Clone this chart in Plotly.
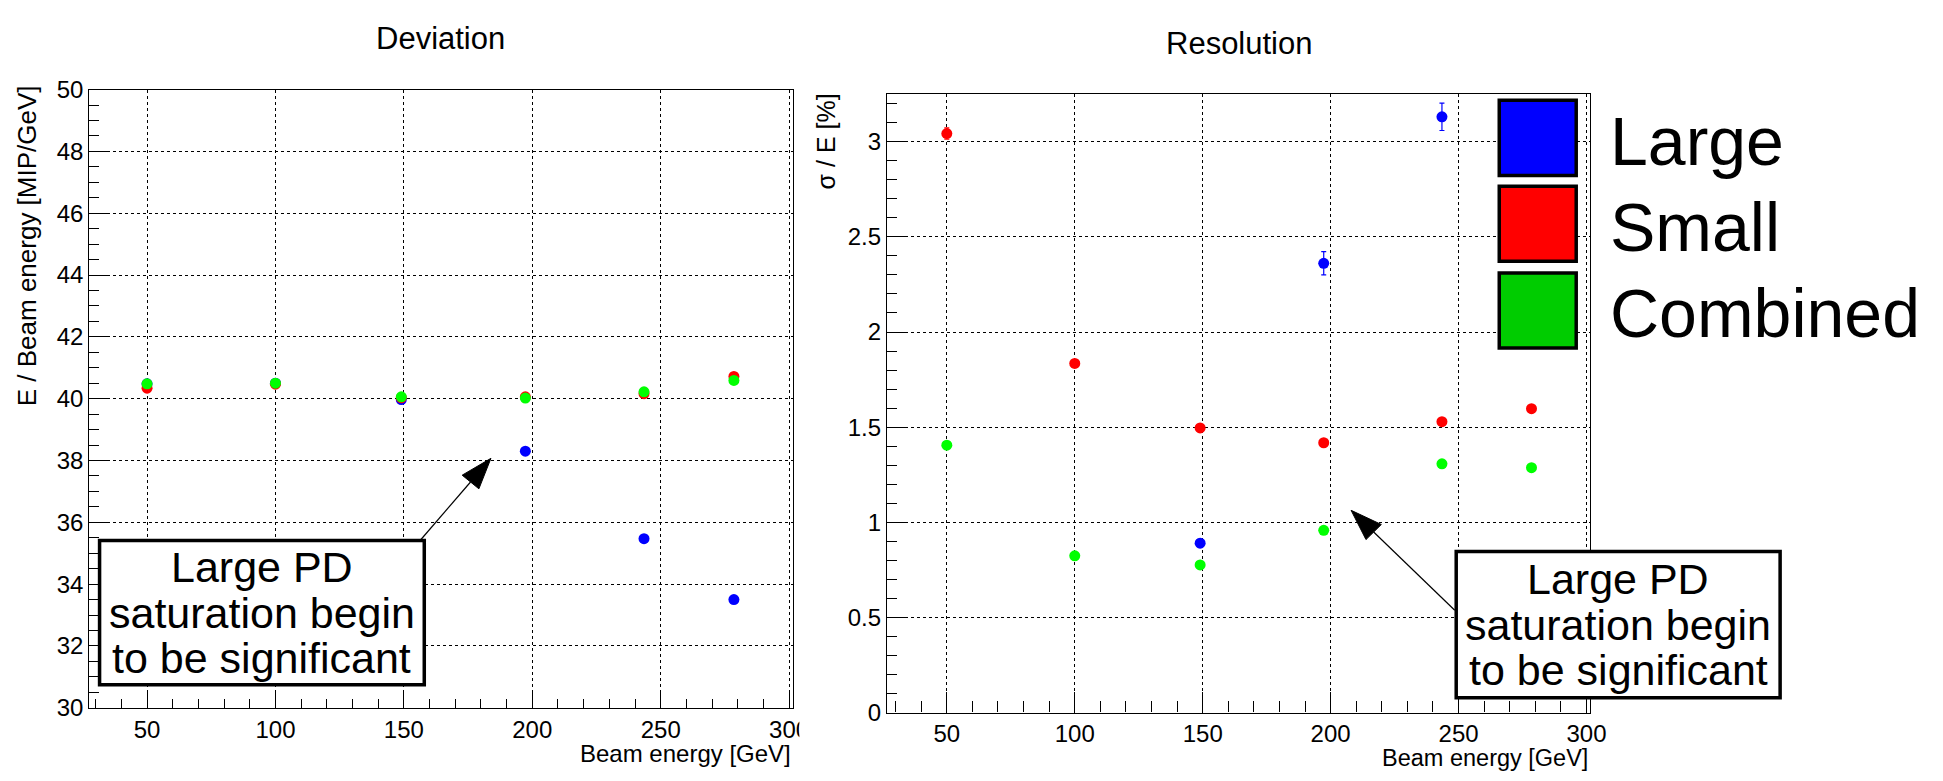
import plotly.graph_objects as go

W, H = 1943, 781

# ---------------- data ----------------
energy = [50, 100, 149, 197.3, 243.5, 278.5]

dev_large = [40.48, 40.50, 39.97, 38.30, 35.47, 33.50]
dev_small = [40.34, 40.47, 40.03, 40.06, 40.16, 40.72]
dev_comb = [40.48, 40.50, 40.06, 40.02, 40.22, 40.59]

res_large = [None, None, 0.890, 2.361, 3.131, None]
res_large_err = [0.0, 0.0, 0.02, 0.061, 0.072, 0.0]
res_small = [3.043, 1.835, 1.496, 1.418, 1.529, 1.597]
res_small_err = [0.03, 0.015, 0.01, 0.01, 0.015, 0.015]
res_comb = [1.405, 0.824, 0.776, 0.958, 1.307, 1.287]
res_comb_err = [0.015, 0.01, 0.01, 0.01, 0.01, 0.01]

series_names = ["Large", "Small", "Combined"]
marker_colors = ["#0000ff", "#ff0000", "#00ff00"]
legend_colors = ["#0000ff", "#ff0000", "#00cc00"]

titles = ["Deviation", "Resolution"]
ytitles = ["E / Beam energy [MIP/GeV]", "σ / E [%]"]
xtitle = "Beam energy [GeV]"
note_lines = ["Large PD", "saturation begin", "to be significant"]

# ---------------- geometry (pixels) ----------------
FONT = "Liberation Sans, Arial, sans-serif"
L_frame = dict(x0=90, x1=799.3, y0=78.3, y1=718.6)
R_frame = dict(x0=894.3, x1=1603.3, y0=83.0, y1=723.6)
L_xr, L_yr = [27.5, 301.4], [30, 50]
R_xr, R_yr = [26.6, 301.4], [0, 3.25]


def px(x):
    return x / W


def py(y):
    return 1 - y / H


def dom(f):
    return [px(f["x0"]), px(f["x1"])], [py(f["y1"]), py(f["y0"])]


def d2p(frame, xr, yr, x, y):
    X = frame["x0"] + (x - xr[0]) / (xr[1] - xr[0]) * (frame["x1"] - frame["x0"])
    Y = frame["y1"] - (y - yr[0]) / (yr[1] - yr[0]) * (frame["y1"] - frame["y0"])
    return X, Y


fig = go.Figure()

for yv, col, nm in zip([dev_large, dev_small, dev_comb], marker_colors, series_names):
    fig.add_trace(go.Scatter(x=energy, y=yv, mode="markers", name=nm,
                             marker=dict(color=col, size=11, line=dict(width=0)),
                             xaxis="x", yaxis="y", showlegend=False))

for yv, err, col, nm in zip([res_large, res_small, res_comb],
                            [res_large_err, res_small_err, res_comb_err],
                            marker_colors, series_names):
    fig.add_trace(go.Scatter(x=energy, y=yv, mode="markers", name=nm,
                             marker=dict(color=col, size=11, line=dict(width=0)),
                             error_y=dict(type="data", array=err, color=col, thickness=1.2, width=2.5),
                             xaxis="x2", yaxis="y2", showlegend=False))

Ldx, Ldy = dom(L_frame)
Rdx, Rdy = dom(R_frame)

common_x = dict(showline=True, linecolor="black", linewidth=1.2, mirror=True,
                ticks="inside", tickcolor="black", tickwidth=1,
                showgrid=True, gridcolor="black", griddash="dot", gridwidth=1,
                zeroline=False, tickfont=dict(family=FONT, size=24, color="black"),
                tick0=0, dtick=50)
common_y = dict(showline=True, linecolor="black", linewidth=1.2, mirror=True,
                ticks="inside", tickcolor="black", tickwidth=1, ticklen=20,
                showgrid=True, gridcolor="black", griddash="dot", gridwidth=1,
                zeroline=False, tickfont=dict(family=FONT, size=24, color="black"))

fig.update_layout(
    width=W, height=H, autosize=False,
    margin=dict(l=0, r=0, t=0, b=0, pad=0),
    paper_bgcolor="white", plot_bgcolor="white",
    xaxis=dict(domain=Ldx, range=L_xr, anchor="y", ticklen=17,
               minor=dict(ticks="inside", dtick=10, tick0=0, ticklen=9, tickcolor="black", showgrid=False),
               **common_x),
    yaxis=dict(domain=Ldy, range=L_yr, anchor="x", tick0=30, dtick=2,
               minor=dict(ticks="inside", dtick=0.5, tick0=30, ticklen=10, tickcolor="black", showgrid=False),
               **common_y),
    xaxis2=dict(domain=Rdx, range=R_xr, anchor="y2", ticklen=20,
                minor=dict(ticks="inside", dtick=10, tick0=0, ticklen=11, tickcolor="black", showgrid=False),
                **common_x),
    yaxis2=dict(domain=Rdy, range=R_yr, anchor="x2", tick0=0, dtick=0.5,
                minor=dict(ticks="inside", dtick=0.1, tick0=0, ticklen=10, tickcolor="black", showgrid=False),
                **common_y),
)

ann = []
shapes = []


def text(x, y, s, size, xanchor="center", angle=0):
    ann.append(dict(x=px(x), y=py(y), xref="paper", yref="paper", text=s, showarrow=False,
                    xanchor=xanchor, yanchor="middle", textangle=angle,
                    font=dict(family=FONT, size=size, color="black")))


# titles
text(444.5, 25, titles[0], 31)
text(1249.4, 31, titles[1], 31)
# axis titles
text(27.5, 240.3, ytitles[0], 26, angle=-90)
text(832.8, 132, ytitles[1], 25, angle=-90)
text(799.3, 766, xtitle, 24, xanchor="right")
text(1603.3, 771, xtitle, 23.5, xanchor="right")

# clip of left "300" label by the right pad
shapes.append(dict(type="rect", xref="paper", yref="paper", x0=px(806), x1=px(821), y0=py(752), y1=py(724),
                   fillcolor="white", line=dict(width=0), layer="above"))

# note boxes
for (bx0, bx1, by0, by1) in [(100.4, 427.8, 545.3, 694.7), (1468.3, 1794.9, 556.7, 708.2)]:
    shapes.append(dict(type="rect", xref="paper", yref="paper", x0=px(bx0), x1=px(bx1),
                       y0=py(by1), y1=py(by0), fillcolor="white",
                       line=dict(color="black", width=3.5), layer="above"))
    cx, cy = (bx0 + bx1) / 2, (by0 + by1) / 2
    for k, line in enumerate(note_lines):
        text(cx, cy + (k - 1) * 47.5, line, 43)


# arrows (tail, tip in data coordinates)
def arrow(frame, xr, yr, tail, tip, L=32, hw=11):
    tx, ty = d2p(frame, xr, yr, *tail)
    hx, hy = d2p(frame, xr, yr, *tip)
    dx, dy = hx - tx, hy - ty
    n = (dx * dx + dy * dy) ** 0.5
    ux, uy = dx / n, dy / n
    bx, by = hx - L * ux, hy - L * uy
    nx, ny = -uy, ux
    shapes.append(dict(type="line", xref="paper", yref="paper", x0=px(tx), y0=py(ty), x1=px(bx), y1=py(by),
                       line=dict(color="black", width=1.2), layer="above"))
    path = "M{},{} L{},{} L{},{} Z".format(px(hx), py(hy), px(bx + hw * nx), py(by + hw * ny),
                                           px(bx - hw * nx), py(by - hw * ny))
    shapes.append(dict(type="path", xref="paper", yref="paper", path=path, fillcolor="black",
                       line=dict(color="black", width=1), layer="above"))


arrow(L_frame, L_xr, L_yr, (156.4, 35.42), (183.9, 38.07))
arrow(R_frame, R_xr, R_yr, (248.5, 0.538), (208.0, 1.063))

# legend
box_y = [(89.3, 167.3), (178.3, 256.0), (268.3, 346.0)]
for (y0, y1), col, nm in zip(box_y, legend_colors, series_names):
    shapes.append(dict(type="rect", xref="paper", yref="paper", x0=px(1511.7), x1=px(1589.3),
                       y0=py(y1), y1=py(y0), fillcolor=col, line=dict(color="black", width=3.5),
                       layer="above"))
    text(1621, (y0 + y1) / 2 + 3, nm, 68, xanchor="left")

fig.update_layout(annotations=ann, shapes=shapes)
fig.write_html("out.html", config={"displayModeBar": False},
               post_script=("document.documentElement.style.margin='0';"
                            "document.body.style.margin='0';"
                            "document.body.style.overflow='hidden';"))
